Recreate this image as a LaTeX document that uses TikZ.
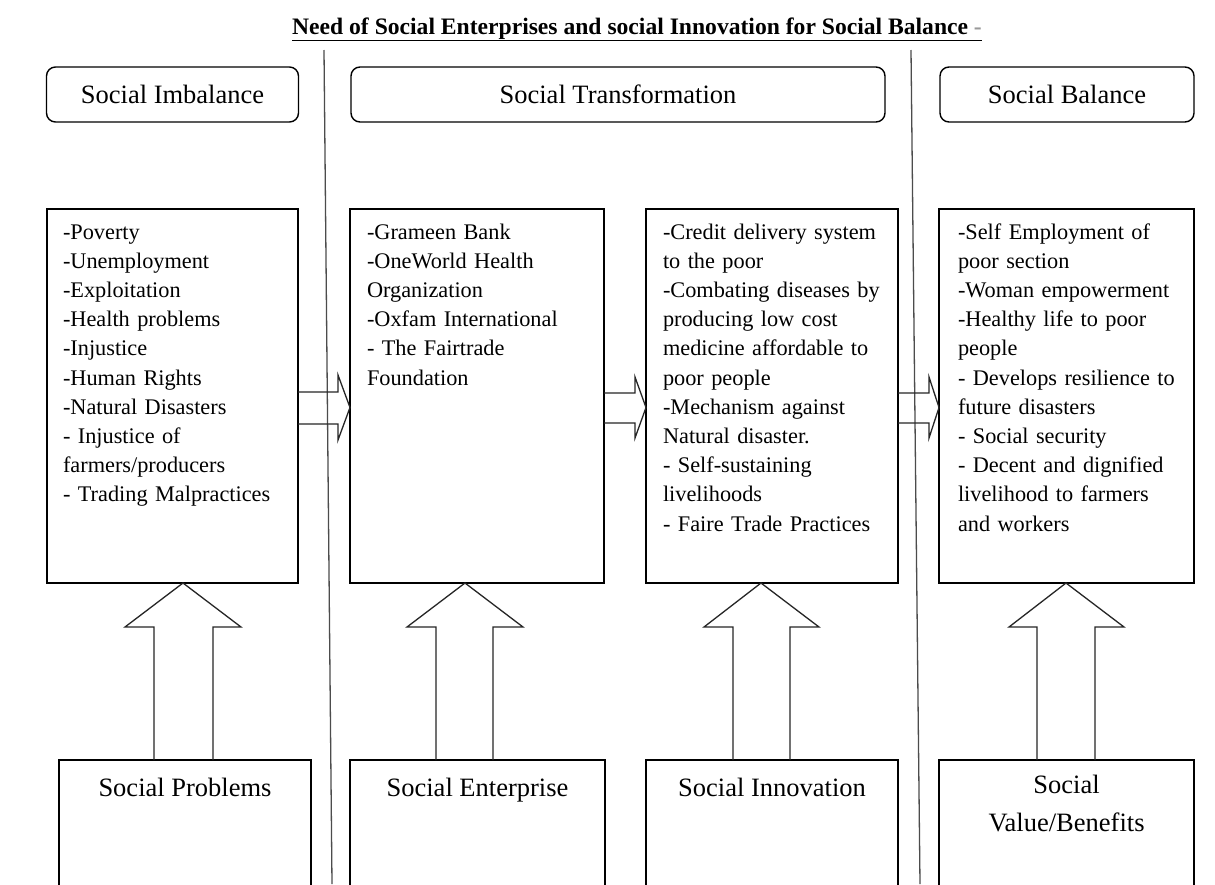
\documentclass[tikz,border=0pt]{standalone}
\usepackage{fontspec}
\setmainfont{Liberation Serif}
\usetikzlibrary{calc}
\begin{document}
\begin{tikzpicture}[x=1pt,y=-1pt,
  every node/.style={inner sep=0pt, outer sep=0pt},
  topbox/.style={draw, rounded corners=9pt, line width=1.4pt, font=\fontsize{26.5}{30}\selectfont},
  midbox/.style={draw, line width=1.6pt, anchor=north west, minimum height=374pt},
  listtext/.style={anchor=base west, text width=234pt, align=left, font=\fontsize{22.3}{29.2}\selectfont},
  botbox/.style={draw, line width=1.6pt, anchor=north west, minimum height=200pt},
  botlabel/.style={anchor=base, align=center, font=\fontsize{26.5}{38}\selectfont},
  blockarrow/.style={draw, black!85, line width=1.3pt, line join=miter},
  sepline/.style={draw, black!70, line width=1.3pt}
]
\fill[white] (0,0) rectangle (1215,884);
\clip (0,0) rectangle (1215,884);

% title
\node[anchor=base, font=\fontsize{23.6}{28}\selectfont\bfseries] (title) at (637,34)
  {\underline{Need of Social Enterprises and social Innovation for Social Balance {\color{black!40}-}}};

% separators
\draw[sepline] (324,50) -- (332,884);
\draw[sepline] (911,50) -- (920,884);

% top rounded boxes
\node[topbox, minimum width=252pt, minimum height=55pt] (t1) at (172.5,94.5) {Social Imbalance};
\node[topbox, minimum width=534pt, minimum height=55pt] (t2) at (618,94.5) {Social Transformation};
\node[topbox, minimum width=254pt, minimum height=55pt] (t3) at (1067,94.5) {Social Balance};

% middle boxes
\node[midbox, minimum width=251pt] (b1) at (47,209) {};
\node[midbox, minimum width=254pt] (b2) at (350,209) {};
\node[midbox, minimum width=252pt] (b3) at (646,209) {};
\node[midbox, minimum width=255pt] (b4) at (939,209) {};

\node[listtext] (l1) at (63,239) {-Poverty\\-Unemployment\\-Exploitation\\-Health problems\\-Injustice\\-Human Rights\\-Natural Disasters\\- Injustice of\\farmers/producers\\- Trading Malpractices};
\node[listtext] (l2) at (367,239) {-Grameen Bank\\-OneWorld Health\\Organization\\-Oxfam International\\- The Fairtrade\\Foundation};
\node[listtext] (l3) at (663,239) {-Credit delivery system\\to the poor\\-Combating diseases by\\producing low cost\\medicine affordable to\\poor people\\-Mechanism against\\Natural disaster.\\- Self-sustaining\\livelihoods\\- Faire Trade Practices};
\node[listtext] (l4) at (958,239) {-Self Employment of\\poor section\\-Woman empowerment\\-Healthy life to poor\\people\\- Develops resilience to\\future disasters\\- Social security\\- Decent and dignified\\livelihood to farmers\\and workers};

% bottom boxes
\node[botbox, minimum width=252pt] (bp) at (59,760) {};
\node[botbox, minimum width=255pt] (be) at (350,760) {};
\node[botbox, minimum width=252pt] (bi) at (646,760) {};
\node[botbox, minimum width=255pt] (bv) at (939,760) {};

\node[botlabel] (lp) at (bp.north |- 0,796) {Social Problems};
\node[botlabel] (le) at (be.north |- 0,796) {Social Enterprise};
\node[botlabel] (li) at (bi.north |- 0,796) {Social Innovation};
\node[botlabel] (lv) at (bv.north |- 0,831) {Social\\Value/Benefits};

% horizontal block arrows
\draw[blockarrow] (b1.east |- 0,392) -- (338,392) -- (338,375) -- (b2.west |- 0,407.5) -- (338,440) -- (338,424) -- (b1.east |- 0,424);
\draw[blockarrow] (b2.east |- 0,393) -- (635,393) -- (635,377) -- (b3.west |- 0,407.5) -- (635,438) -- (635,423) -- (b2.east |- 0,423);
\draw[blockarrow] (b3.east |- 0,393) -- (929,393) -- (929,377) -- (b4.west |- 0,407.5) -- (929,438) -- (929,423) -- (b3.east |- 0,423);

% vertical block arrows
\draw[blockarrow] (154,0 |- bp.north) -- (154,627) -- (125,627) -- (183,0 |- b1.south) -- (241,627) -- (213,627) -- (213,0 |- bp.north);
\draw[blockarrow] (436,0 |- be.north) -- (436,627) -- (407,627) -- (465,0 |- b2.south) -- (523,627) -- (493,627) -- (493,0 |- be.north);
\draw[blockarrow] (733,0 |- bi.north) -- (733,627) -- (704,627) -- (761,0 |- b3.south) -- (819,627) -- (790,627) -- (790,0 |- bi.north);
\draw[blockarrow] (1037,0 |- bv.north) -- (1037,627) -- (1009,627) -- (1066,0 |- b4.south) -- (1124,627) -- (1095,627) -- (1095,0 |- bv.north);
\end{tikzpicture}
\end{document}
